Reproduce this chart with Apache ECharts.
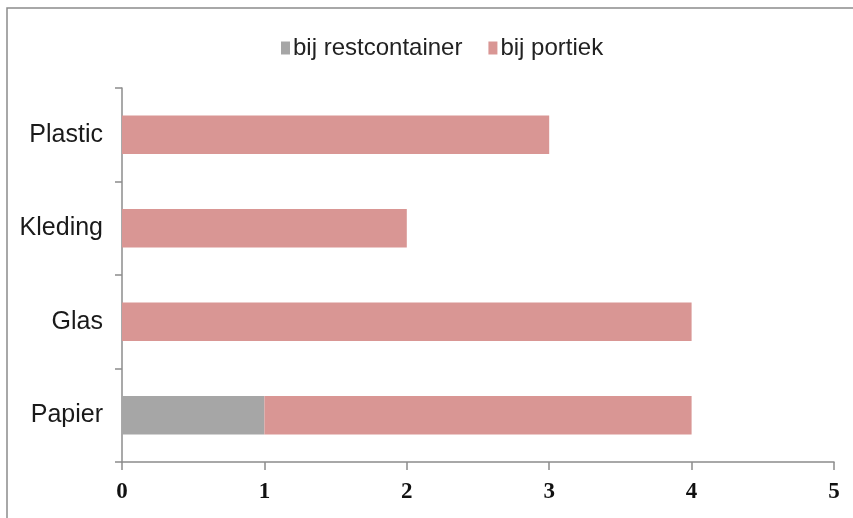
<!DOCTYPE html>
<html>
<head>
<meta charset="utf-8">
<script src="https://cdn.jsdelivr.net/npm/echarts@6/dist/echarts.min.js"></script>
<style>
  html, body { margin: 0; padding: 0; background: #fff; }
  #main { width: 853px; height: 518px; }
</style>
</head>
<body>
<div id="main"></div>
<script>
// categories bottom to top
const categories = ['Papier', 'Glas', 'Kleding', 'Plastic'];
const restcontainer = [1, 0, 0, 0];
const portiek = [3, 4, 2, 3];
const xTicks = [0, 1, 2, 3, 4, 5];

const chart = echarts.init(document.getElementById('main'));

chart.setOption({
  animation: false,
  backgroundColor: '#fff',
  graphic: [{
    type: 'rect',
    shape: { x: 7, y: 8, width: 900, height: 560 },
    style: { fill: 'none', stroke: '#8c8c8c', lineWidth: 1.5 },
    silent: true
  }],
  legend: {
    left: 276,
    top: 31,
    itemWidth: 9,
    itemHeight: 13,
    itemGap: 26,
    icon: 'rect',
    textStyle: { fontFamily: 'Liberation Sans, Arial', fontSize: 24, color: '#222', padding: [0, 0, 0, -2] },
    data: ['bij restcontainer', 'bij portiek']
  },
  grid: { left: 122, right: 19, top: 88, bottom: 56, containLabel: false },
  xAxis: {
    type: 'value',
    min: xTicks[0],
    max: xTicks[xTicks.length - 1],
    interval: 1,
    splitLine: { show: false },
    axisLine: { show: true, lineStyle: { color: '#8c8c8c', width: 1.5 } },
    axisTick: { show: true, length: 8, lineStyle: { color: '#8c8c8c', width: 1.5 } },
    axisLabel: { margin: 19, fontFamily: 'Liberation Serif, DejaVu Serif', fontWeight: 'bold', fontSize: 23, color: '#111' }
  },
  yAxis: {
    type: 'category',
    data: categories,
    axisLine: { show: true, lineStyle: { color: '#8c8c8c', width: 1.5 } },
    axisTick: { show: true, length: 7, lineStyle: { color: '#8c8c8c', width: 1.5 } },
    axisLabel: { margin: 19, fontFamily: 'Liberation Sans, Arial', fontSize: 25, color: '#1a1a1a' }
  },
  series: [
    {
      name: 'bij restcontainer',
      type: 'bar',
      stack: 'total',
      barWidth: '41%',
      data: restcontainer,
      itemStyle: { color: '#a6a6a6' }
    },
    {
      name: 'bij portiek',
      type: 'bar',
      stack: 'total',
      barWidth: '41%',
      data: portiek,
      itemStyle: { color: '#d99694' }
    }
  ]
});
</script>
</body>
</html>
